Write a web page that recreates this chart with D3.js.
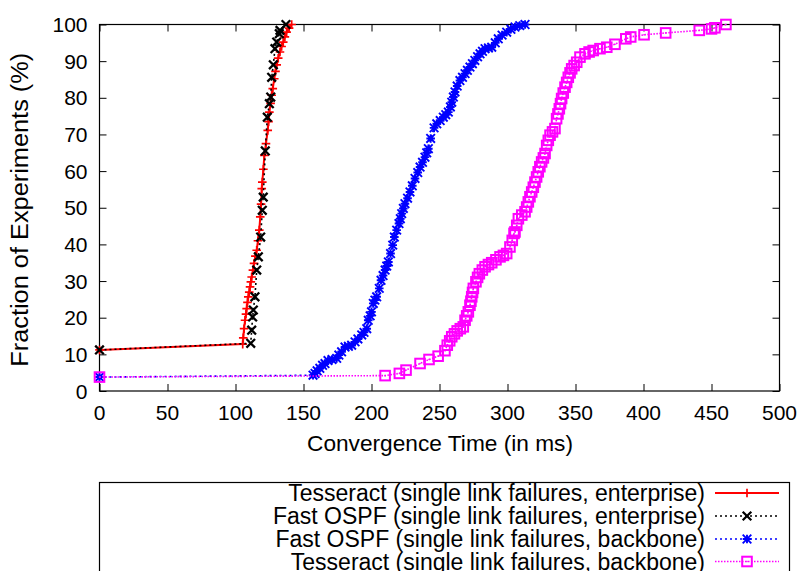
<!DOCTYPE html>
<html>
<head>
<meta charset="utf-8">
<script src="https://cdn.jsdelivr.net/npm/d3@7"></script>
<style>
  html, body { margin: 0; padding: 0; background: #fff; }
  svg { display: block; font-family: "Liberation Sans", Arial, Helvetica, sans-serif; }
</style>
</head>
<body>
<svg id="chart" width="804" height="571"></svg>
<script>
// ---------- data ----------
const xTicks = [0, 50, 100, 150, 200, 250, 300, 350, 400, 450, 500];
const yTicks = [0, 10, 20, 30, 40, 50, 60, 70, 80, 90, 100];
const xLabel = "Convergence Time (in ms)";
const yLabel = "Fraction of Experiments (%)";

const seriesNames = [
  "Tesseract (single link failures, enterprise)",
  "Fast OSPF (single link failures, enterprise)",
  "Fast OSPF (single link failures, backbone)",
  "Tesseract (single link failures, backbone)"
];

const tesseractEnterprise = [
  [0,11.2],[105.3,12.8],[105.7,14.5],[106.3,17],[107,19.3],[107.7,21],[108.2,22.5],[108.8,24.2],
  [109.4,25.7],[110.1,27],[110.7,28.4],[111.3,29.8],[111.9,31.1],[112.8,33],[113.6,34.8],[114.6,36.8],
  [115.6,38.4],[116.5,41],[117.5,43.9],[118.2,47.5],[118.8,51],[119.3,55.2],[119.7,57],[120.5,60.5],
  [121.2,64.3],[122.4,67.5],[123.7,71.1],[124.3,73.5],[124.9,76.1],[125.8,78.5],[126.6,80.7],
  [127.4,82.5],[128.5,85.2],[129.4,87.2],[130.3,89],[131.4,90.8],[132.7,92.5],[133.9,94],
  [135.1,95.2],[136.3,96.6],[137.6,97.9],[139.4,99],[141.3,100]
];

const fastOspfEnterprise = [
  [0,11.2],[111.2,13],[111.9,16.6],[112.6,20.2],[113.1,22.1],[114.3,25.7],[115.6,33],[116.8,36.6],
  [118.5,42],[119.7,49.3],[120.4,52.9],[121.9,65.5],[123.4,74.7],[124.9,78.4],[125.9,80.2],
  [126.6,85.6],[127.8,89],[129,93.4],[130.3,95.2],[132.2,97.5],[132.7,98.4],[137.1,100]
];

const fastOspfBackbone = [
  [0,3.8],[157,4.3],[158.5,4.8],[160,5.5],[162,6.2],[164,7],[165.8,7.5],[168,8.3],[171,8.6],
  [174.4,8.9],[176,9.8],[178,10.7],[180.5,12],[183,12.2],[185.4,12.5],[187.9,13.4],[190,14.2],
  [192.8,15.3],[194.5,16],[196.5,17],[197.6,19.3],[199,20.5],[200,21.6],[201.3,23.9],[202.5,24.8],
  [203.8,25.7],[205.7,28],[207,30.2],[208.5,31.5],[210,33],[211.2,34.1],[212.4,35.2],[214,37.5],
  [215.6,39.8],[216.8,42],[218.5,43.9],[220.2,45.7],[221.2,47],[222.2,48.4],[223.4,49.8],[224.6,51.1],
  [226.5,52.6],[228.3,54.3],[230,56],[232,58],[234,59.6],[235.7,61.1],[237.5,62.4],[239.3,63.8],
  [240.6,65],[241.8,66.1],[243.5,68.9],[246,71.8],[248,72.9],[250.5,73.8],[252.8,74.7],[254.6,75.4],
  [256.5,76.1],[258,77.5],[259,78.8],[260.2,80.2],[261.4,81.6],[263,83.2],[265,84.7],[266.9,85.6],
  [268.8,86.6],[270.5,87.5],[272.4,88.4],[274.2,89.3],[276,90.2],[278,91.2],[279.8,92],[281.6,92.7],
  [283.5,93.4],[286,93.6],[288.4,93.8],[291,95],[293.2,96.1],[296,97.1],[299.4,97.9],[302.5,98.7],
  [305.5,99.3],[309,99.7],[312.9,100]
];

const tesseractBackbone = [
  [0,3.8],[210,4.2],[220.5,4.8],[225.4,5.7],[235.7,7.5],[242.3,8.6],[249,9.5],[254,11],[255.7,12.5],
  [257.5,13.7],[259,14.8],[261,15.6],[263,16.4],[265.3,17],[267.5,17.5],[268.8,19.3],[270,20.5],
  [271.2,21.6],[272.4,23.4],[273.1,24.5],[273.7,25.7],[274.3,26.9],[274.9,28],[276.8,29.8],[278,31],
  [279.3,32],[281.5,33],[283.5,33.9],[286,34.5],[288.4,35],[291.5,35.8],[294.5,36.6],[297,37],
  [299.4,37.5],[301.8,39.3],[303.5,41.1],[304.8,43],[305.5,43.4],[306.8,45.2],[308,47],[310.5,48],
  [312.9,48.9],[314.1,50.2],[315.3,51.6],[316.5,53],[317.8,54.3],[319,55.6],[320.2,57],[321.4,58.4],
  [322.6,59.8],[323.8,61.2],[325.1,62.5],[326.4,63.6],[327.6,64.8],[328.8,67],[330,68.4],[331.3,69.8],
  [333.1,70.7],[334.9,71.6],[336.1,74.3],[337.1,75.6],[338.1,77],[339,78.4],[339.8,79.8],[341,81.3],
  [342.3,82.9],[343.5,84.2],[344.7,85.6],[346,86.8],[347.2,87.9],[349,88.8],[350.9,89.7],[353.3,91.1],
  [357,92],[360,92.5],[363,92.9],[368,93.4],[373,93.8],[379,94.6],[387,96.1],[390.6,96.6],
  [400.4,97.2],[416.3,97.7],[441,98.4],[450,98.8],[452.5,99.1],[460.6,100]
];

const seriesData = [tesseractEnterprise, fastOspfEnterprise, fastOspfBackbone, tesseractBackbone];
const seriesColors = ["#ff0000", "#000000", "#0000ff", "#ff00ff"];
const seriesDash = [null, "2,3", "2,3", "1.5,1.5"];
const seriesMarker = ["plus", "cross", "star", "square"];

// ---------- layout ----------
const svg = d3.select("#chart");
const plot = { left: 99.5, right: 779.5, top: 24.5, bottom: 391 };
const x = d3.scaleLinear().domain([0, 500]).range([plot.left, plot.right]);
const y = d3.scaleLinear().domain([0, 100]).range([plot.bottom, plot.top]);
const fontTick = 21;
const tickLen = 7;

// axes (inward ticks, mirrored)
const axB = svg.append("g").attr("transform", `translate(0,${plot.bottom})`)
  .call(d3.axisTop(x).tickValues(xTicks).tickSize(tickLen).tickFormat(""));
const axT = svg.append("g").attr("transform", `translate(0,${plot.top})`)
  .call(d3.axisBottom(x).tickValues(xTicks).tickSize(tickLen).tickFormat(""));
const axL = svg.append("g").attr("transform", `translate(${plot.left},0)`)
  .call(d3.axisRight(y).tickValues(yTicks).tickSize(tickLen).tickFormat(""));
const axR = svg.append("g").attr("transform", `translate(${plot.right},0)`)
  .call(d3.axisLeft(y).tickValues(yTicks).tickSize(tickLen).tickFormat(""));
[axB, axT, axL, axR].forEach(a => {
  a.select(".domain").remove();
  a.selectAll("line").attr("stroke", "#000").attr("stroke-width", 1);
});
svg.append("rect")
  .attr("x", plot.left).attr("y", plot.top)
  .attr("width", plot.right - plot.left).attr("height", plot.bottom - plot.top)
  .attr("fill", "none").attr("stroke", "#000").attr("stroke-width", 1.2);

// tick labels
svg.append("g").selectAll("text").data(xTicks).join("text")
  .attr("x", d => x(d)).attr("y", plot.bottom + 29)
  .attr("text-anchor", "middle").attr("font-size", fontTick).text(d => d);
svg.append("g").selectAll("text").data(yTicks).join("text")
  .attr("x", plot.left - 12).attr("y", d => y(d) + 7.5)
  .attr("text-anchor", "end").attr("font-size", fontTick).text(d => d);

// axis titles
svg.append("text").attr("x", 440).attr("y", 451)
  .attr("text-anchor", "middle").attr("font-size", 22.5)
  .attr("textLength", 266).attr("lengthAdjust", "spacingAndGlyphs").text(xLabel);
svg.append("text").attr("transform", `translate(28,${(plot.top + plot.bottom) / 2 + 2}) rotate(-90)`)
  .attr("text-anchor", "middle").attr("font-size", 23)
  .attr("textLength", 314).attr("lengthAdjust", "spacingAndGlyphs").text(yLabel);

// markers
function markerPath(type) {
  const s = 4.3;
  if (type === "plus") return `M${-s},0H${s}M0,${-s}V${s}`;
  if (type === "cross") return `M${-s},${-s}L${s},${s}M${-s},${s}L${s},${-s}`;
  if (type === "star") return `M${-s},0H${s}M0,${-s}V${s}M${-s},${-s}L${s},${s}M${-s},${s}L${s},${-s}`;
  return null;
}
function drawMarker(g, type, color, cx, cy) {
  if (type === "square") {
    g.append("rect").attr("x", cx - 4.8).attr("y", cy - 4.8).attr("width", 9.6).attr("height", 9.6)
      .attr("fill", "none").attr("stroke", color).attr("stroke-width", 2);
    g.append("rect").attr("x", cx - 0.7).attr("y", cy - 0.7).attr("width", 1.4).attr("height", 1.4)
      .attr("fill", color);
  } else {
    g.append("path").attr("transform", `translate(${cx},${cy})`).attr("d", markerPath(type))
      .attr("fill", "none").attr("stroke", color)
      .attr("stroke-width", type === "cross" ? 2.3 : (type === "star" ? 1.9 : 1.7));
  }
}

const line = d3.line().x(d => x(d[0])).y(d => y(d[1]));

seriesData.forEach((data, i) => {
  const g = svg.append("g");
  g.append("path").datum(data).attr("d", line)
    .attr("fill", "none").attr("stroke", seriesColors[i])
    .attr("stroke-width", i === 0 ? 2 : 1.6)
    .attr("stroke-dasharray", seriesDash[i]);
  data.forEach(d => drawMarker(g, seriesMarker[i], seriesColors[i], x(d[0]), y(d[1])));
});

// legend
const leg = svg.append("g");
leg.append("rect").attr("x", 99.5).attr("y", 482.5).attr("width", 690).attr("height", 100)
  .attr("fill", "none").attr("stroke", "#000").attr("stroke-width", 1.2);
const legRowY = [493, 516, 539, 561.5];
seriesNames.forEach((name, i) => {
  leg.append("text").attr("x", 705).attr("y", legRowY[i] + 8)
    .attr("text-anchor", "end").attr("font-size", 23).text(name);
  leg.append("line").attr("x1", 715).attr("x2", 779).attr("y1", legRowY[i]).attr("y2", legRowY[i])
    .attr("stroke", seriesColors[i]).attr("stroke-width", i === 0 ? 2 : 1.6)
    .attr("stroke-dasharray", seriesDash[i]);
  drawMarker(leg, seriesMarker[i], seriesColors[i], 747, legRowY[i]);
});
</script>
</body>
</html>
